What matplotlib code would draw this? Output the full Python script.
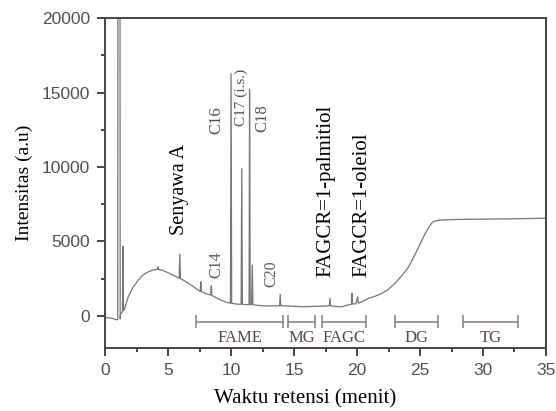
import numpy as np
import matplotlib.pyplot as plt
from matplotlib.ticker import MultipleLocator

# Chromatogram trace (time in min, intensity in a.u.)
waktu = [0.0, 0.5, 0.9, 1.0, 1.02, 1.18, 1.2, 1.22, 1.38, 1.42, 1.46, 1.55,
         1.84, 2.2, 2.63, 3.0, 3.42, 3.8, 4.15, 4.2, 4.25, 4.6, 5.0, 5.5,
         5.88, 5.93, 5.98, 6.4, 6.85, 7.2, 7.55, 7.6, 7.65, 8.0, 8.38, 8.43,
         8.48, 8.8, 9.2, 9.6, 9.95, 10.0, 10.05, 10.4, 10.8, 10.85, 10.9,
         11.2, 11.43, 11.47, 11.52, 11.63, 11.68, 11.73, 12.0, 12.5, 12.9,
         13.4, 13.85, 13.9, 13.95, 14.45, 15.0, 15.6, 16.5, 17.3, 17.8, 17.85,
         17.9, 18.4, 18.8, 19.2, 19.55, 19.6, 19.65, 19.9, 20.05, 20.1, 20.5,
         20.9, 21.5, 22.0, 22.5, 23.0, 23.5, 24.1, 24.5, 24.9, 25.3, 25.7,
         26.0, 26.2, 26.6, 27.0, 28.0, 30.0, 32.0, 35.0]
intensitas = [-100, -150, -250, -250, 25000, 25000, -200, 100, 300, 4700, 350,
              500, 1290, 1900, 2400, 2750, 2960, 3080, 3130, 3300, 3120, 3050,
              2900, 2700, 2530, 4150, 2520, 2300, 2070, 1850, 1650, 2300, 1620,
              1500, 1400, 2030, 1380, 1230, 1070, 930, 850, 16270, 850, 800,
              780, 9880, 780, 760, 760, 15230, 760, 760, 3420, 760, 720, 680,
              670, 680, 680, 1450, 690, 670, 650, 620, 640, 660, 680, 1180, 680,
              630, 620, 720, 780, 1520, 800, 820, 1290, 850, 1000, 1180, 1350,
              1520, 1800, 2190, 2650, 3300, 3950, 4640, 5350, 5970, 6300, 6380,
              6440, 6450, 6480, 6500, 6520, 6560]

# Peak labels, x position and y of the bottom of the rotated text
label_puncak = ["Senyawa A", "C14", "C16", "C17 (i.s.)", "C18", "C20",
                "FAGCR=1-palmitiol", "FAGCR=1-oleiol"]
x_puncak = [5.92, 8.82, 8.82, 10.8, 12.5, 13.17, 17.5, 20.35]
y_puncak = [5420, 2520, 12240, 12780, 12330, 1940, 2610, 2610]

# Retention ranges of each compound class
kelas = ["FAME", "MG", "FAGC", "DG", "TG"]
awal = [7.2, 14.5, 17.25, 23.0, 28.4]
akhir = [14.15, 16.7, 20.75, 26.45, 32.8]

serif = "Liberation Serif"
sans = "Liberation Sans"

fig = plt.figure(figsize=(5.56, 4.11), dpi=100)
ax = fig.add_axes([0.189, 0.153, 0.793, 0.803])

ax.plot(waktu, intensitas, color="#767676", lw=0.9)

# rotated peak labels
ukuran = [14.5, 11.5, 12, 11, 12, 11.5, 15, 15]
warna = ["black", "#555555", "#555555", "#555555", "#555555", "#5a6070",
         "black", "black"]
for t, x, y, s, c in zip(label_puncak, x_puncak, y_puncak, ukuran, warna):
    ax.text(x, y, t, rotation=90, ha="center", va="bottom", fontsize=s,
            color=c, family=serif)

# range bars with end caps
y_bar = -380
cap = 420
for k, a, b in zip(kelas, awal, akhir):
    ax.hlines(y_bar, a, b, color="#808080", lw=1.1)
    ax.vlines([a, b], y_bar - cap, y_bar + cap, color="#808080", lw=1.1)
    ax.text((a + b) / 2, -1490, k, ha="center", va="center", fontsize=12,
            color="#5a4848", family=serif)

ax.set_xlim(0, 35)
ax.set_ylim(-2160, 20000)
ax.xaxis.set_major_locator(MultipleLocator(5))
ax.xaxis.set_minor_locator(MultipleLocator(2.5))
ax.yaxis.set_major_locator(MultipleLocator(5000))
ax.yaxis.set_minor_locator(MultipleLocator(2500))

for sp in ax.spines.values():
    sp.set_color("#444444")
    sp.set_linewidth(1.4)
ax.tick_params(which="major", direction="out", length=6, width=1.4,
               color="#444444", labelcolor="#505050", labelsize=12.5, pad=5)
ax.tick_params(which="minor", direction="out", length=3, width=1.4,
               color="#444444")
for lab in ax.get_xticklabels() + ax.get_yticklabels():
    lab.set_family(sans)

ax.set_xlabel("Waktu retensi (menit)", family=serif, fontsize=15)
ax.xaxis.set_label_coords(0.453, -0.125)
ax.set_ylabel("Intensitas (a.u)", family=serif, fontsize=14, labelpad=6)

fig.savefig("out.png", dpi=100)
